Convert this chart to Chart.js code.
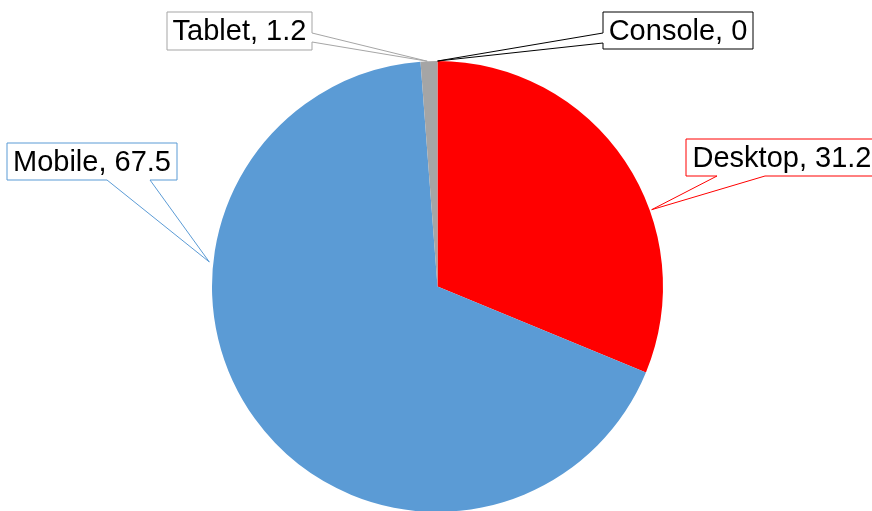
<!DOCTYPE html>
<html>
<head>
<meta charset="utf-8">
<script src="https://cdn.jsdelivr.net/npm/chart.js@4"></script>
<style>
    html, body { margin: 0; padding: 0; background: #fff; overflow: hidden; }
    #graficoDispositivos { display: block; }
</style>
</head>
<body>
<canvas id="graficoDispositivos" width="872" height="512"></canvas>
<script>
const categorias = ['Desktop', 'Mobile', 'Tablet', 'Console'];
const valores = [31.2, 67.5, 1.2, 0];
const colores = ['#FF0000', '#5B9BD5', '#A5A5A5', '#000000'];

// Callout boxes: where each box sits, which edge the pointer leaves from,
// and how far along its slice the pointer tip lands (0..1)
const callouts = [
    { box: { x: 686, y: 139, w: 192, h: 37 }, edge: 'bottom', attach: [765, 717], frac: 0.625, out: 2 },
    { box: { x: 7, y: 143, w: 170, h: 37 }, edge: 'bottom', attach: [150, 107], frac: 0.673, out: 4 },
    { box: { x: 167, y: 12, w: 145, h: 38 }, edge: 'right', attach: [33, 42], frac: 0.4, out: 0 },
    { box: { x: 603, y: 12, w: 150, h: 37 }, edge: 'left', attach: [43, 33], frac: 0.5, out: 0 }
];

function calloutPath(ctx, c, tip) {
    const { x, y, w, h } = c.box;
    const pts = [[x, y], [x + w, y]];
    if (c.edge === 'right') c.attach.forEach((v, i) => { pts.push([x + w, v]); if (i === 0) pts.push(tip); });
    pts.push([x + w, y + h]);
    if (c.edge === 'bottom') c.attach.forEach((v, i) => { pts.push([v, y + h]); if (i === 0) pts.push(tip); });
    pts.push([x, y + h]);
    if (c.edge === 'left') c.attach.forEach((v, i) => { pts.push([x, v]); if (i === 0) pts.push(tip); });
    ctx.beginPath();
    pts.forEach((p, i) => i ? ctx.lineTo(p[0], p[1]) : ctx.moveTo(p[0], p[1]));
    ctx.closePath();
}

const calloutPlugin = {
    id: 'callouts',
    afterDraw(chart) {
        const ctx = chart.ctx;
        const meta = chart.getDatasetMeta(0);
        ctx.save();
        ctx.font = '29px "Liberation Sans", Arial, sans-serif';
        ctx.textAlign = 'center';
        ctx.textBaseline = 'middle';
        ctx.lineWidth = 1;
        callouts.forEach((c, i) => {
            const arc = meta.data[i];
            const a = arc.startAngle + c.frac * (arc.endAngle - arc.startAngle);
            const r = arc.outerRadius + c.out;
            const tip = [arc.x + Math.cos(a) * r, arc.y + Math.sin(a) * r];
            calloutPath(ctx, c, tip);
            ctx.fillStyle = '#fff';
            ctx.fill();
            ctx.strokeStyle = colores[i];
            ctx.stroke();
            ctx.fillStyle = '#000';
            ctx.fillText(categorias[i] + ', ' + valores[i], c.box.x + c.box.w / 2, c.box.y + c.box.h / 2 + 1);
        });
        ctx.restore();
    }
};

new Chart(document.getElementById('graficoDispositivos'), {
    type: 'pie',
    data: {
        labels: categorias,
        datasets: [{
            data: valores,
            backgroundColor: colores,
            borderWidth: 0
        }]
    },
    options: {
        responsive: false,
        animation: false,
        layout: { padding: { top: 61, left: 3, right: 0, bottom: 0 } },
        plugins: { legend: { display: false }, tooltip: { enabled: false } }
    },
    plugins: [calloutPlugin]
});
</script>
</body>
</html>
